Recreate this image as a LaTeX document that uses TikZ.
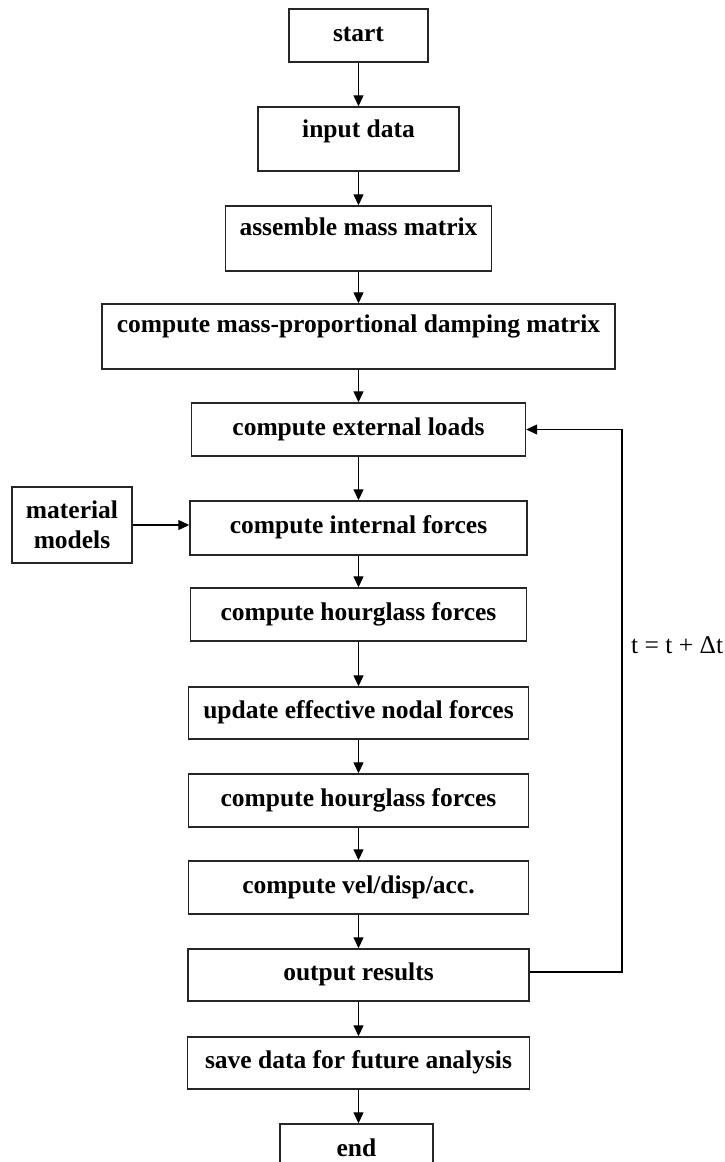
\documentclass[tikz,border=0pt]{standalone}
\usepackage{fontspec}
\setmainfont{Liberation Serif}
\usetikzlibrary{arrows.meta}

\begin{document}
\begin{tikzpicture}[x=1pt,y=1pt,
  frame/.style={draw=black!85, line width=1.4pt, rectangle, inner sep=0pt,
    font=\bfseries\fontsize{25.5}{30}\selectfont, align=center},
  box/.style={frame, text height=17pt, text depth=6pt},
  flow/.style={line width=1.2pt, -{Triangle[length=11pt,width=10pt]}},
  note/.style={font=\fontsize{25.5}{30}\selectfont, inner sep=0pt}
]
\useasboundingbox (0,0) rectangle (724,-1162);

% main column
\node[box, minimum width=139pt, minimum height=53pt] (start) at (358.5,-35.5) {start};
\node[box, minimum width=201pt, minimum height=64pt, text depth=20pt] (input) at (358.5,-139) {input data};
\node[box, minimum width=266pt, minimum height=65pt, text depth=23pt] (mass) at (358.5,-238.5) {assemble mass matrix};
\node[box, minimum width=513pt, minimum height=65pt, text depth=25pt] (damp) at (358.5,-336.5) {compute mass-proportional damping matrix};
\node[box, minimum width=334pt, minimum height=53pt] (ext) at (358.5,-429.5) {compute external loads};
\node[box, minimum width=337pt, minimum height=54pt] (int) at (358.5,-528) {compute internal forces};
\node[box, minimum width=336pt, minimum height=53pt] (hg1) at (358.5,-614.5) {compute hourglass forces};
\node[box, minimum width=340pt, minimum height=52pt] (nodal) at (358.5,-713) {update effective nodal forces};
\node[box, minimum width=340pt, minimum height=53pt] (hg2) at (358.5,-800.5) {compute hourglass forces};
\node[box, minimum width=340pt, minimum height=53pt] (vel) at (358.5,-887.5) {compute vel/disp/acc.};
\node[box, minimum width=341pt, minimum height=52pt] (out) at (358.5,-975) {output results};
\node[box, minimum width=342pt, minimum height=52pt] (save) at (358.5,-1063) {save data for future analysis};
\node[box, minimum width=153pt, minimum height=53pt] (end) at (356.5,-1150.5) {end};

% side input
\node[frame, minimum width=120pt, minimum height=76pt] (mat) at (72,-525) {material\\models};

% connectors
\draw[flow] (start) -- (input);
\draw[flow] (input) -- (mass);
\draw[flow] (mass) -- (damp);
\draw[flow] (damp) -- (ext);
\draw[flow] (ext) -- (int);
\draw[flow] (int) -- (hg1);
\draw[flow] (hg1) -- (nodal);
\draw[flow] (nodal) -- (hg2);
\draw[flow] (hg2) -- (vel);
\draw[flow] (vel) -- (out);
\draw[flow] (out) -- (save);
\draw[flow] (save.south) -- (save.south |- end.north);
\draw[flow] (mat.east) -- (mat.east -| int.west);

% time-step loop
\coordinate (loopR) at (622,-700);
\draw[flow] ([yshift=3pt]out.east) -- ([yshift=3pt]out.east -| loopR) -- (ext.east -| loopR) -- (ext.east);
\node[note, anchor=west] (dt) at (631,-645) {t = t + Δt};
\end{tikzpicture}
\end{document}
